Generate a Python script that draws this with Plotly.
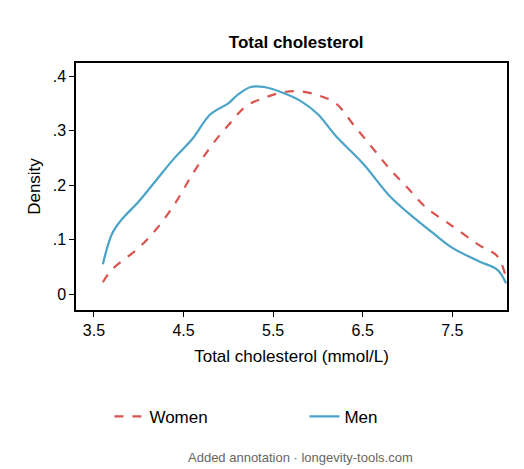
import plotly.graph_objects as go

# density curves
men_x = [3.6, 3.7, 3.8, 4.0, 4.2, 4.4, 4.6, 4.8, 5.0, 5.1, 5.25, 5.4, 5.6, 5.8, 6.0, 6.2, 6.5, 6.8, 7.0, 7.3, 7.5, 7.8, 8.0, 8.1]
men_y = [.055, .11, .135, .17, .21, .25, .285, .33, .35, .365, .38, .38, .37, .355, .33, .29, .24, .18, .15, .11, .085, .06, .045, .02]
women_x = [3.6, 3.7, 4.0, 4.2, 4.4, 4.6, 4.8, 5.0, 5.2, 5.4, 5.6, 5.8, 6.0, 6.2, 6.4, 6.6, 6.8, 7.0, 7.2, 7.5, 7.8, 8.0, 8.1]
women_y = [.022, .045, .085, .12, .165, .22, .27, .31, .345, .36, .37, .372, .365, .35, .31, .27, .23, .195, .16, .125, .09, .07, .03]

x_ticks = [3.5, 4.5, 5.5, 6.5, 7.5]
y_ticks = [0, .1, .2, .3, .4]
y_labels = ["0", ".1", ".2", ".3", ".4"]

fig = go.Figure()
fig.add_trace(go.Scatter(x=women_x, y=women_y, mode="lines", name="Women",
                         line=dict(color="#d9534f", width=2.2, dash="dash", shape="spline")))
fig.add_trace(go.Scatter(x=men_x, y=men_y, mode="lines", name="Men",
                         line=dict(color="#4aa3c8", width=2.2, shape="spline")))

ax = dict(showline=True, linecolor="black", linewidth=1.5, mirror=True, showgrid=False,
          zeroline=False, ticks="outside", tickcolor="black", ticklen=5,
          tickfont=dict(size=16, color="black"))
fig.update_xaxes(range=[3.3, 8.11], tickvals=x_ticks, ticktext=[str(v) for v in x_ticks],
                 title=dict(text="Total cholesterol (mmol/L)", font=dict(size=17, color="black"), standoff=12), **ax)
fig.update_yaxes(range=[-0.029, 0.424], tickvals=y_ticks, ticktext=y_labels,
                 title=dict(text="Density", font=dict(size=17, color="black"), standoff=8), **ax)

fig.update_layout(
    width=524, height=469, plot_bgcolor="white", paper_bgcolor="white",
    font=dict(family="Liberation Sans, Arial", color="black"),
    title=dict(text="<b>Total cholesterol</b>", x=0.55, xanchor="center", y=0.94, font=dict(size=17)),
    margin=dict(l=68, r=25, t=55, b=167),
    showlegend=True,
    legend=dict(orientation="h", x=0.53, xanchor="center", y=-0.36, yanchor="top",
                font=dict(size=17), entrywidthmode="pixels", entrywidth=150),
    annotations=[dict(text="Added annotation · longevity-tools.com", xref="paper", yref="paper",
                      x=0.52, y=-0.56, xanchor="center", yanchor="top", showarrow=False,
                      font=dict(size=13, color="#666"))],
)
fig.write_html("out.html")
